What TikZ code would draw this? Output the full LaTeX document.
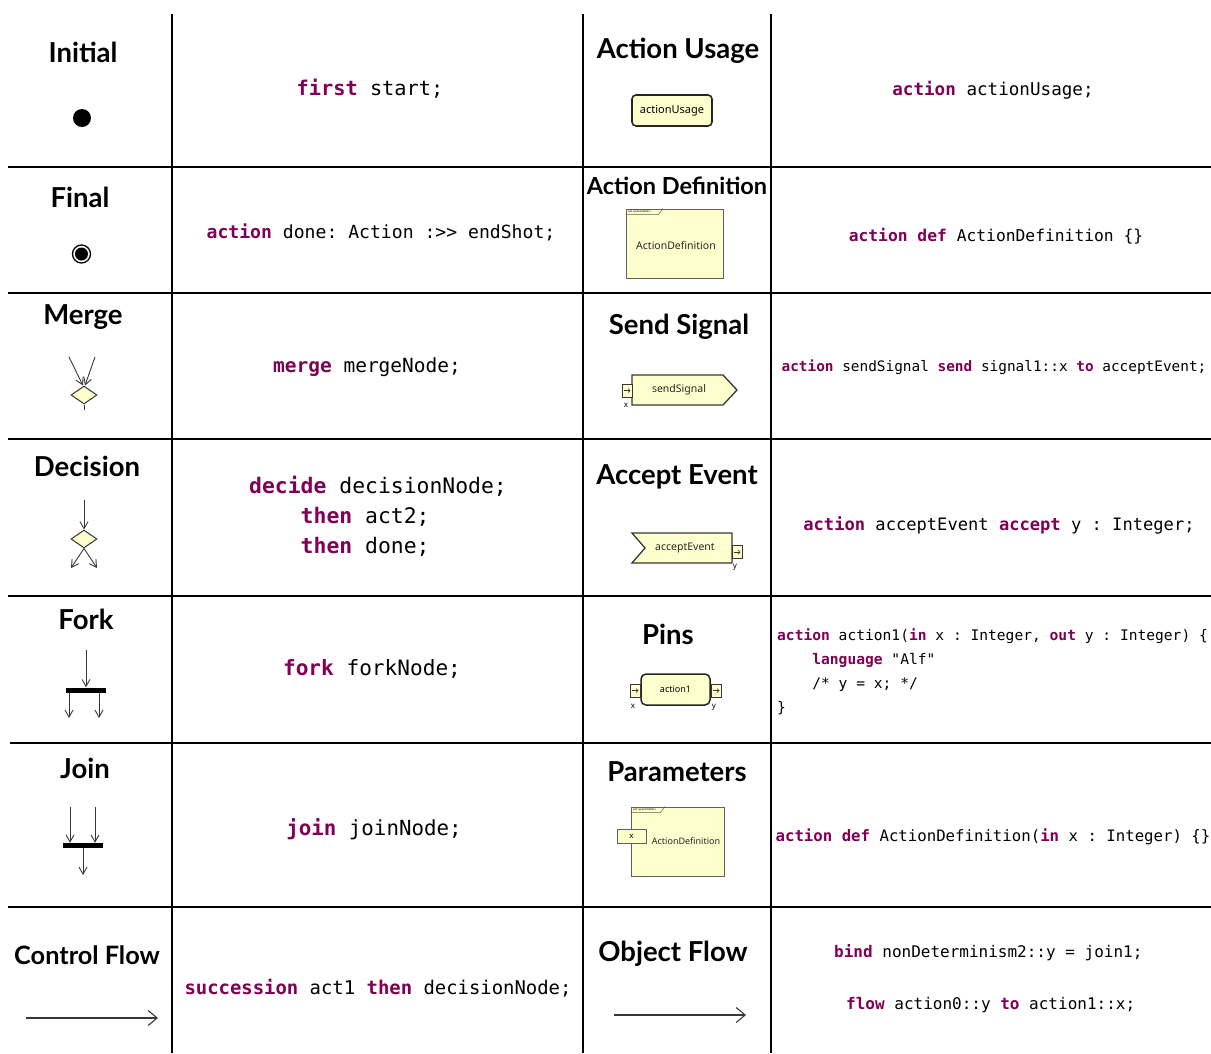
\documentclass[tikz,border=0pt]{standalone}
\usepackage{fontspec}
\setmainfont{Noto Sans}
\setmonofont{DejaVu Sans Mono}
\newfontfamily\headfamily{Lato}
\usetikzlibrary{arrows.meta,shapes.geometric}
\definecolor{kw}{RGB}{127,0,85}
\definecolor{actfill}{RGB}{255,255,206}
\definecolor{edge}{RGB}{55,55,55}
\definecolor{thin}{RGB}{95,95,95}
\newcommand\kw[1]{\textcolor{kw}{\bfseries #1}}
\newcommand\code[2]{\ttfamily\fontsize{#1}{#2}\selectfont}
\newcommand\headsize[1]{\headfamily\fontsize{#1}{30}\selectfont\bfseries}
\tikzset{
  gridline/.style={line width=1.6pt, black},
  head/.style={font=\headsize{27.5}, inner sep=0pt},
  codetext/.style={inner sep=0pt, align=left},
  arr/.style={draw=edge, line width=0.9pt, -{Straight Barb[length=7pt,width=8pt]}},
  longarr/.style={draw=edge, line width=1.1pt, -{Straight Barb[length=9pt,width=15pt]}},
  plainln/.style={draw=edge, line width=0.9pt},
  dia/.style={diamond, draw=edge, fill=actfill, line width=1pt, inner sep=0pt, aspect=1.45, minimum width=26pt, minimum height=18pt},
  bar/.style={rectangle, fill=black, inner sep=0pt, minimum width=40pt, minimum height=5pt},
  usagebox/.style={rectangle, rounded corners=4pt, draw=black!85, line width=1.6pt, fill=actfill, inner sep=0pt},
  defbox/.style={rectangle, draw=thin, line width=0.8pt, fill=actfill, inner sep=0pt},
  lbl/.style={inner sep=0pt, font=\fontsize{10.5}{12}\selectfont, text=black!85},
  pics/pin/.style={code={
    \draw[draw=edge, line width=0.8pt, fill=actfill] (-5,-6.5) rectangle (5,6.5);
    \draw[draw=edge, line width=0.6pt, -{Straight Barb[length=2pt,width=4pt]}] (-3.5,0) -- (3.5,0);
  }},
}
\begin{document}
\begin{tikzpicture}[x=1pt, y=-1pt]
\useasboundingbox (0,0) rectangle (1211,1053);

% table rules
\foreach \yy in {167,293,439,596,907} \draw[gridline] (8,\yy) -- (1211,\yy);
\draw[gridline] (10,743) -- (1211,743);
\foreach \xx in {172,583,771} \draw[gridline] (\xx,14) -- (\xx,1053);

% ---------- left column: headings ----------
\node[head] (hInitial) at (83,52) {Initial};
\node[head] (hFinal) at (80,197) {Final};
\node[head] (hMerge) at (83,317) {Merge};
\node[head] (hDecision) at (87,466) {Decision};
\node[head] (hFork) at (86,619) {Fork};
\node[head] (hJoin) at (85,768) {Join};
\node[head, font=\headsize{25.3}] (hCtrl) at (87,955) {Control Flow};

% initial node
\node[circle, fill=black, minimum size=18pt, inner sep=0pt] (initdot) at (82,118) {};
% final node
\node[circle, draw=black, line width=1.3pt, minimum size=18pt, inner sep=0pt] (finring) at (81.5,254) {};
\node[circle, fill=black, minimum size=13pt, inner sep=0pt] (findot) at (81.5,254) {};

% merge
\node[dia] (mg) at (84,395) {};
\coordinate (m1) at (69,357);
\coordinate (m2) at (95,357);
\coordinate (m3) at (84,410);
\draw[arr] (m1) -- ([xshift=-1pt]mg.north);
\draw[arr] (m2) -- ([xshift=1pt]mg.north);
\draw[plainln] (mg.south) -- (m3);

% decision
\node[dia] (dc) at (84,539) {};
\coordinate (d0) at (84,500);
\coordinate (d1) at (71,568);
\coordinate (d2) at (97,568);
\draw[arr] (d0) -- (dc.north);
\draw[arr] (dc.south) -- (d1);
\draw[arr] (dc.south) -- (d2);

% fork
\node[bar] (fb) at (86,690) {};
\coordinate (f0) at (86,650);
\coordinate (f1) at (69,718);
\coordinate (f2) at (99,718);
\draw[arr] (f0) -- (fb.north);
\draw[arr] (fb.south -| f1) -- (f1);
\draw[arr] (fb.south -| f2) -- (f2);

% join
\node[bar] (jb) at (83,845.5) {};
\coordinate (j1) at (70,807);
\coordinate (j2) at (95,807);
\coordinate (j3) at (83,875);
\draw[arr] (j1) -- (j1 |- jb.north);
\draw[arr] (j2) -- (j2 |- jb.north);
\draw[arr] (jb.south) -- (j3);

% control flow
\coordinate (c1) at (26,1018);
\coordinate (c2) at (158,1018);
\draw[longarr] (c1) -- (c2);

% ---------- second column: textual notation ----------
\node[codetext, font=\code{20.3}{24}] (tInitial) at (370,89) {\kw{first} start;};
\node[codetext, font=\code{18.1}{22}] (tFinal) at (381,232) {\kw{action} done: Action :>> endShot;};
\node[codetext, font=\code{19.5}{24}] (tMerge) at (367,367) {\kw{merge} mergeNode;};
\node[codetext, font=\code{21.4}{30}, anchor=west] (tDecision) at (249,516)
  {\kw{decide} decisionNode;\\\hphantom{xxxx}\kw{then} act2;\\\hphantom{xxxx}\kw{then} done;};
\node[codetext, font=\code{21.1}{24}] (tFork) at (372,669) {\kw{fork} forkNode;};
\node[codetext, font=\code{20.8}{24}] (tJoin) at (374,829) {\kw{join} joinNode;};
\node[codetext, font=\code{18.9}{22}] (tCtrl) at (378,988) {\kw{succession} act1 \kw{then} decisionNode;};

% ---------- third column: headings and symbols ----------
\node[head] (hUsage) at (678,51) {Action Usage};
\node[head, font=\headsize{23.5}] (hDef) at (677,186) {Action Definition};
\node[head] (hSend) at (679,327) {Send Signal};
\node[head] (hAccept) at (677,477) {Accept Event};
\node[head] (hPins) at (668,634) {Pins};
\node[head] (hParams) at (677,772) {Parameters};
\node[head] (hObj) at (673,954) {Object Flow};

% action usage
\node[usagebox, minimum width=80pt, minimum height=31pt, font=\fontsize{11}{12}\selectfont] (usage) at (672,110.5) {actionUsage};

% action definition
\node[defbox, minimum width=97pt, minimum height=69pt] (adef) at (674.5,243.5) {};
\node[lbl] (adefname) at (676,246) {ActionDefinition};
\draw[draw=thin, line width=0.5pt] ([yshift=-6pt]adef.north west) -- ++(33,0) -- ++(4,-6);
\node[inner sep=0pt, font=\fontsize{3}{3}\selectfont, anchor=west] (adeftab) at (628,212) {\textbf{act} «parameter»};

% send signal
\draw[draw=edge, line width=1.3pt, fill=actfill] (632,375) -- (723,375) -- (737,390) -- (723,405) -- (632,405) -- cycle;
\node[lbl] (sendname) at (679,390) {sendSignal};
\pic at (627,390.5) {pin};
\node[inner sep=0pt, font=\fontsize{8}{9}\selectfont] (sendx) at (626,405) {x};

% accept event
\draw[draw=edge, line width=1.3pt, fill=actfill] (632,533) -- (732,533) -- (732,563) -- (632,563) -- (645,548) -- cycle;
\node[lbl] (acceptname) at (685,548.5) {acceptEvent};
\pic at (737,552) {pin};
\node[inner sep=0pt, font=\fontsize{8}{9}\selectfont] (accepty) at (735,567) {y};

% pins
\node[usagebox, rounded corners=5pt, line width=1.5pt, minimum width=69pt, minimum height=31pt, font=\fontsize{9}{10}\selectfont] (act1) at (675.5,689.5) {action1};
\pic at (635,690.5) {pin};
\pic at (716,690.5) {pin};
\node[inner sep=0pt, font=\fontsize{8}{9}\selectfont] (pinx) at (633,706) {x};
\node[inner sep=0pt, font=\fontsize{8}{9}\selectfont] (piny) at (714,707) {y};

% parameters
\node[defbox, minimum width=93pt, minimum height=69pt] (pdef) at (677.5,841.5) {};
\draw[draw=thin, line width=0.5pt] ([yshift=-6pt]pdef.north west) -- ++(30,0) -- ++(4,-6);
\node[inner sep=0pt, font=\fontsize{3}{3}\selectfont, anchor=west] (pdeftab) at (633,810) {\textbf{act} «parameter»};
\node[defbox, minimum width=29pt, minimum height=14pt, font=\fontsize{8}{9}\selectfont] (px) at (631.5,836) {x};
\node[inner sep=0pt, font=\fontsize{9}{10}\selectfont, text=black!85] (pdefname) at (686,841) {ActionDefinition};

% object flow
\coordinate (o1) at (614,1015);
\coordinate (o2) at (746,1015);
\draw[longarr] (o1) -- (o2);

% ---------- fourth column: textual notation ----------
\node[codetext, font=\code{17.6}{22}] (tUsage) at (993,90) {\kw{action} actionUsage;};
\node[codetext, font=\code{16.3}{20}] (tDef) at (996,236) {\kw{action} \kw{def} ActionDefinition \{\}};
\node[codetext, font=\code{14.4}{18}] (tSend) at (994,367) {\kw{action} sendSignal \kw{send} signal1::x \kw{to} acceptEvent;};
\node[codetext, font=\code{17.1}{20}] (tAccept) at (999,525) {\kw{action} acceptEvent \kw{accept} y : Integer;};
\node[codetext, font=\code{14.6}{24}, anchor=west] (tPins) at (777,672)
  {\kw{action} action1(\kw{in} x : Integer, \kw{out} y : Integer) \{\\
   \hphantom{xxxx}\kw{language} "Alf"\\
   \hphantom{xxxx}/* y = x; */\\
   \}};
\node[codetext, font=\code{15.7}{20}] (tParams) at (993,837) {\kw{action} \kw{def} ActionDefinition(\kw{in} x : Integer) \{\}};
\node[codetext, font=\code{16}{20}, anchor=west] (tBind) at (834,953) {\kw{bind} nonDeterminism2::y = join1;};
\node[codetext, font=\code{16}{20}, anchor=west] (tFlow) at (846,1005) {\kw{flow} action0::y \kw{to} action1::x;};
\end{tikzpicture}
\end{document}
